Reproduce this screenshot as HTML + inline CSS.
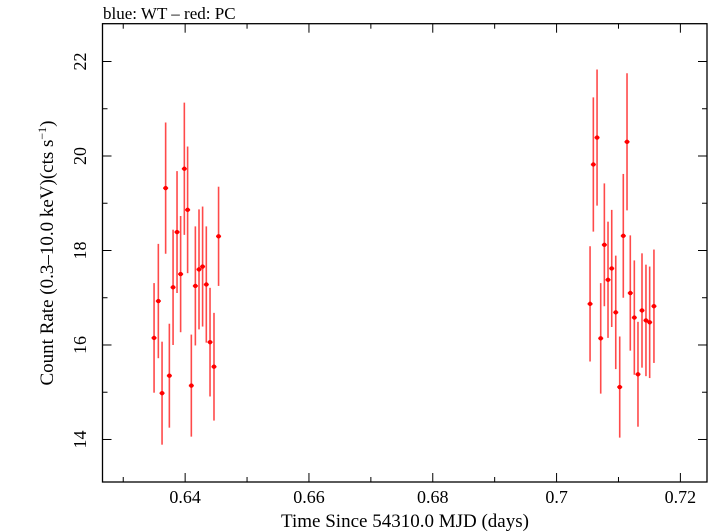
<!DOCTYPE html>
<html><head><meta charset="utf-8"><style>
html,body{margin:0;padding:0;background:#fff;}
svg{display:block;font-family:"Liberation Serif",serif;}
</style></head><body>
<svg id="chart" width="714" height="532" viewBox="0 0 714 532" xmlns="http://www.w3.org/2000/svg">
<text x="103" y="19" font-size="17" fill="#000">blue: WT – red: PC</text>
<g id="axes"></g>
<g id="marks"></g>
<text x="405" y="527" font-size="19" text-anchor="middle">Time Since 54310.0 MJD (days)</text>
<text transform="translate(53,253) rotate(-90)" font-size="19" text-anchor="middle">Count Rate (0.3–10.0 keV)(cts s<tspan font-size="12" dy="-7">−1</tspan><tspan dy="7">)</tspan></text>
</svg>
<script>
const times = [0.63498,0.63567,0.63627,0.63685,0.63745,0.63805,0.63869,0.63927,0.63987,0.6404,0.6410,0.64165,0.64224,0.64282,0.64342,0.64402,0.64466,0.6454,
0.70541,0.70594,0.70654,0.70713,0.70772,0.70831,0.70891,0.70956,0.7102,0.71078,0.71138,0.71191,0.71256,0.71315,0.7138,0.71444,0.71504,0.71573];
const rates = [16.15,16.93,14.98,19.32,15.35,17.22,18.39,17.5,19.73,18.86,15.14,17.25,17.6,17.66,17.28,16.06,15.54,18.3,
16.87,19.82,20.39,16.14,18.12,17.38,17.62,16.69,15.11,18.31,20.3,17.1,16.58,15.38,16.73,16.52,16.48,16.82];
const errors = [1.16,1.21,1.09,1.39,1.10,1.22,1.29,1.23,1.40,1.34,1.08,1.26,1.27,1.27,1.23,1.15,1.14,1.05,
1.22,1.42,1.44,1.17,1.30,1.23,1.24,1.20,1.07,1.31,1.45,1.22,1.21,1.11,1.21,1.18,1.18,1.20];
const xTicks = [0.64,0.66,0.68,0.7,0.72];
const xTickLabels = ["0.64","0.66","0.68","0.7","0.72"];
const yTicks = [14,16,18,20,22];
const yTickLabels = ["14","16","18","20","22"];

const L=102.5,R=707,T=23.7,B=482;
const xMin=0.62665,xMax=0.72430,yMin=13.1,yMax=22.8;
const xs=v=>L+(v-xMin)/(xMax-xMin)*(R-L);
const ys=v=>B-(v-yMin)/(yMax-yMin)*(B-T);
const NS="http://www.w3.org/2000/svg";
function mk(tag,attrs,parent){const e=document.createElementNS(NS,tag);for(const k in attrs)e.setAttribute(k,attrs[k]);parent.appendChild(e);return e;}
const ax=document.getElementById('axes');
const frame=mk('rect',{x:L,y:T,width:R-L,height:B-T,fill:'none',stroke:'#000','stroke-width':1.3},ax);


// x ticks
for(let v=0.63;v<=0.7201;v+=0.01){
  const x=xs(v);const major=Math.abs(Math.round(v*100)%2)===0;const len=major?9:5;
  const t1=mk('line',{x1:x,x2:x,y1:B,y2:B-len,stroke:'#000','stroke-width':1},ax);
  
  
  const t2=mk('line',{x1:x,x2:x,y1:T,y2:T+len,stroke:'#000','stroke-width':1},ax);
  
  
}
xTicks.forEach((v,i)=>{
  const t=mk('text',{x:xs(v),y:503,'font-size':18,'text-anchor':'middle'},ax);
  t.textContent=xTickLabels[i];
  
  
});
for(let v=14;v<=22;v+=1){
  const y=ys(v);const len=(v%2===0)?9:5;
  const t1=mk('line',{x1:L,x2:L+len,y1:y,y2:y,stroke:'#000','stroke-width':1},ax);
  
  
  const t2=mk('line',{x1:R,x2:R-len,y1:y,y2:y,stroke:'#000','stroke-width':1},ax);
  
  
}
yTicks.forEach((v,i)=>{
  const t=mk('text',{transform:`translate(86,${ys(v)}) rotate(-90)`,'font-size':18,'text-anchor':'middle'},ax);
  t.textContent=yTickLabels[i];
  
  
});
const mg=document.getElementById('marks');
times.forEach((t,i)=>{
  const x=xs(t),y=ys(rates[i]);
  const e=mk('line',{x1:x,x2:x,y1:ys(rates[i]+errors[i]),y2:ys(rates[i]-errors[i]),stroke:'#ff2a2a','stroke-width':1.6,'stroke-opacity':0.85},mg);
  
  
  const h=mk('line',{x1:x-2.5,x2:x+2.5,y1:y,y2:y,stroke:'#ff0000','stroke-width':1.6},mg);
  
  
  const c=mk('circle',{cx:x,cy:y,r:2.2,fill:'#ff0000'},mg);
  
  
});
</script>
</body></html>
